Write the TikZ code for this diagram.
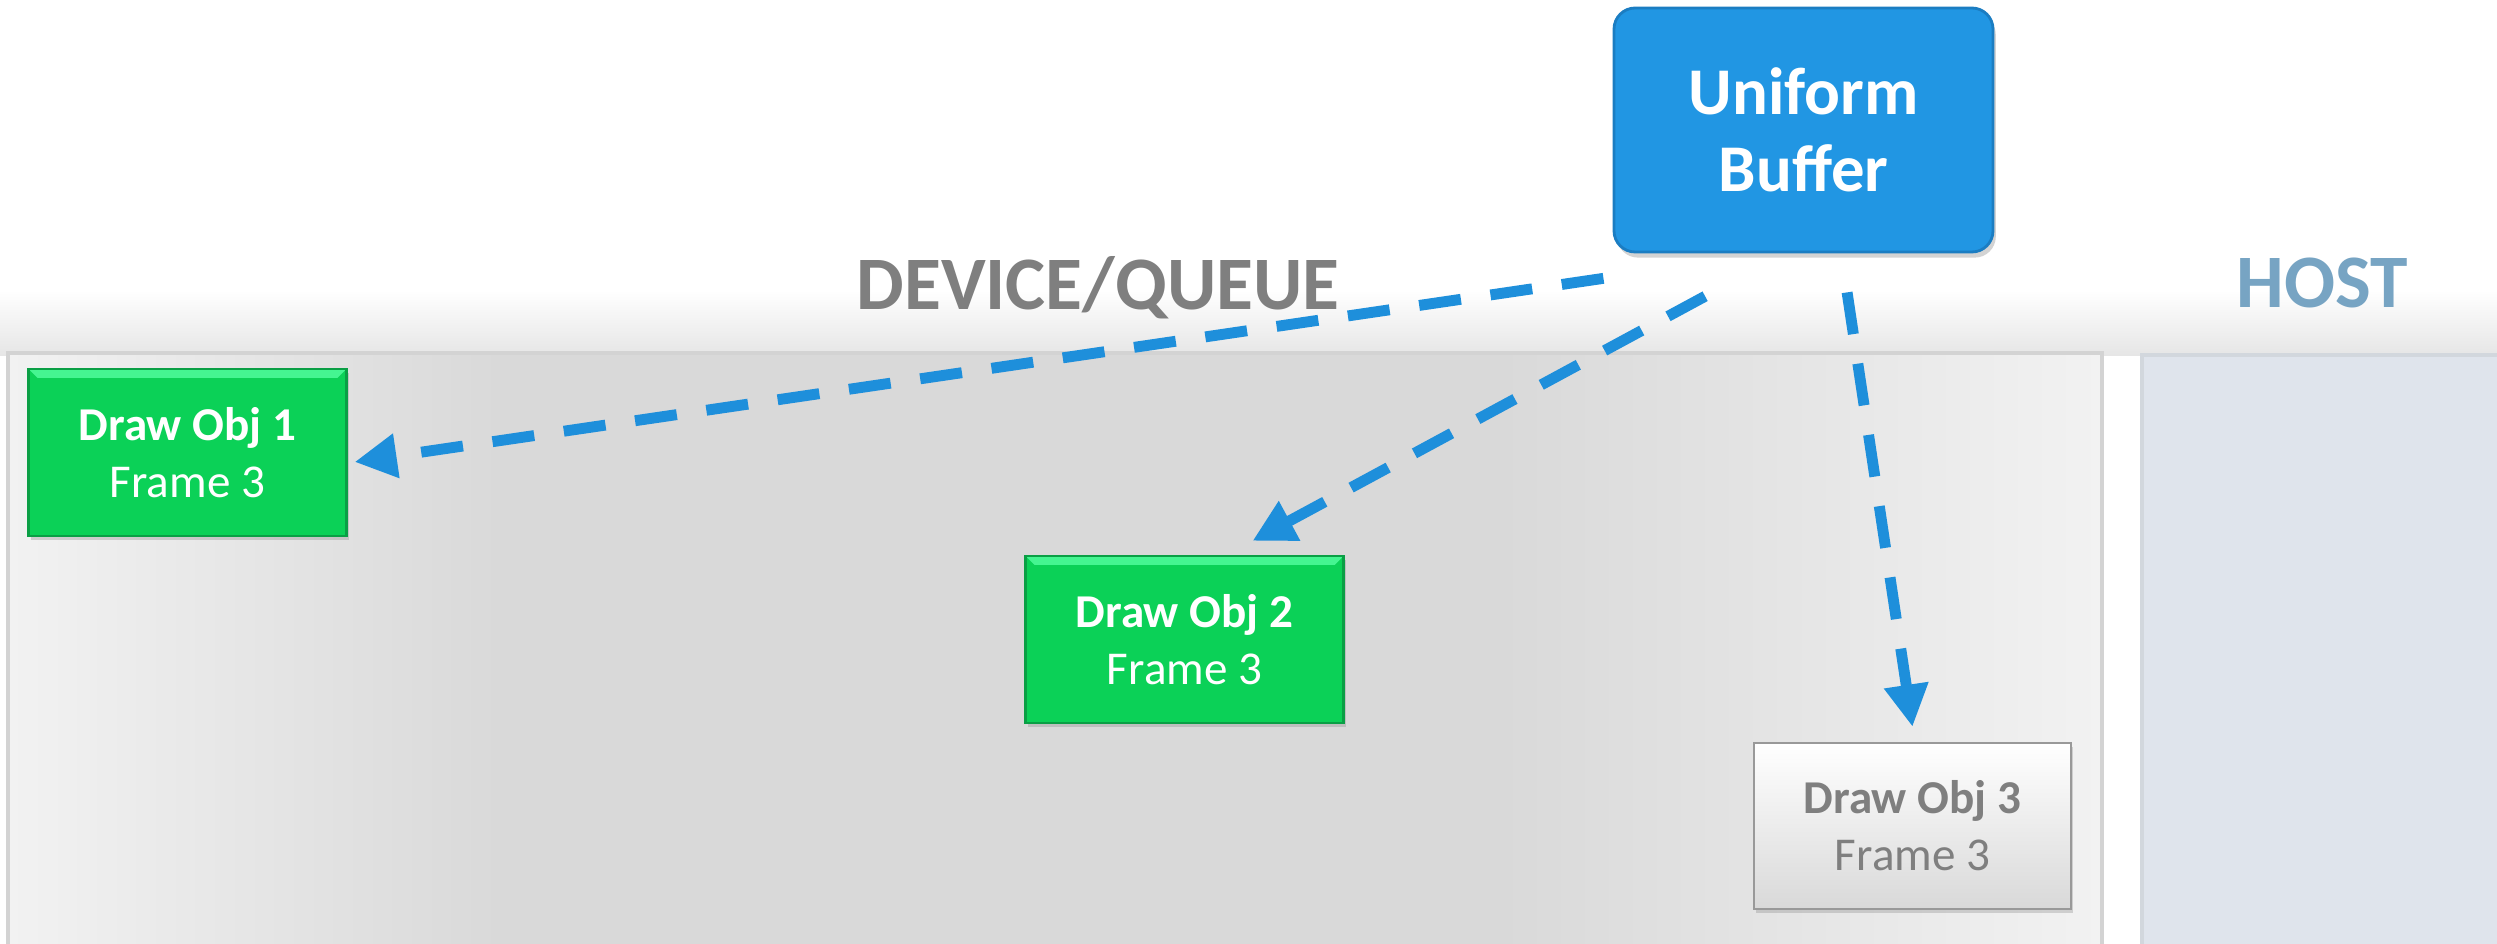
\documentclass[tikz,border=0pt]{standalone}
\usepackage{fontspec}
\setmainfont{Carlito}
\usetikzlibrary{arrows.meta,shadows}

\definecolor{ubblue}{HTML}{2196E3}
\definecolor{ubedge}{HTML}{1B7DC2}
\definecolor{linkblue}{HTML}{1E8FDB}
\definecolor{objgreen}{HTML}{0BD157}
\definecolor{objedge}{HTML}{0A9F45}
\definecolor{objlight}{HTML}{45F591}
\definecolor{textgray}{HTML}{7F7F7F}
\definecolor{hostblue}{HTML}{77A4C3}
\definecolor{hostfill}{HTML}{DFE4EC}
\definecolor{hostedge}{HTML}{D2D7DD}
\definecolor{queuegray}{HTML}{D9D9D9}
\definecolor{queuelight}{HTML}{F2F2F2}
\definecolor{queueedge}{HTML}{D3D3D3}

\begin{document}
\begin{tikzpicture}[x = 0.1mm, y = -0.1mm,
                    buffer/.style = {rectangle, rounded corners = 6pt, draw = ubedge, line width = 0.8pt,
                                     fill = ubblue, text = white, align = center,
                                     minimum width = 37.9mm, minimum height = 24.4mm,
                                     font = \fontsize{19}{22}\selectfont\bfseries,
                                     drop shadow = {opacity = 0.35, shadow xshift = 0.8pt, shadow yshift = -1.6pt}},
                    sheen/.style = {path picture = {
                                     \fill[#1] (path picture bounding box.north west) -- (path picture bounding box.north east)
                                       -- ([xshift = -2.5pt, yshift = -2.5pt]path picture bounding box.north east)
                                       -- ([xshift = 2.5pt, yshift = -2.5pt]path picture bounding box.north west) -- cycle;}},
                    active/.style = {rectangle, draw = objedge, line width = 0.6pt, fill = objgreen, sheen = objlight,
                                     text = white, align = center, minimum width = 31.8mm, minimum height = 16.7mm,
                                     font = \fontsize{13.4}{16.2}\selectfont,
                                     drop shadow = {opacity = 0.3, shadow xshift = 0.6pt, shadow yshift = -1.2pt}},
                    idle/.style = {rectangle, draw = black!40, line width = 0.6pt, top color = white, bottom color = black!15,
                                   text = textgray, align = center, minimum width = 31.7mm, minimum height = 16.6mm,
                                   font = \fontsize{13.4}{16.2}\selectfont,
                                   drop shadow = {opacity = 0.3, shadow xshift = 0.6pt, shadow yshift = -1.2pt}},
                    link/.style = {draw = linkblue, line width = 3.1pt, dash pattern = on 12pt off 8.5pt,
                                   -{Triangle[length = 12pt, width = 12pt]}},
                    title/.style = {anchor = base, font = \fontsize{21.5}{24}\selectfont\bfseries}]
  \useasboundingbox (0,0) rectangle (2497,944);
  \shade[top color = white, bottom color = black!10] (0,290) rectangle (2497,356);

  \fill[queuegray] (8,353) rectangle (2102,960);
  \shade[left color = queuelight, right color = queuegray] (8,353) rectangle (500,960);
  \shade[left color = queuegray, right color = queuelight] (1500,353) rectangle (2102,960);
  \draw[queueedge, line width = 1.2pt] (8,353) rectangle (2102,960);
  \fill[hostfill] (2142,355) rectangle (2520,960);
  \draw[hostedge, line width = 1.2pt] (2142,355) rectangle (2520,960);

  \node [title, text = textgray] (queue) at (1098,310) {DEVICE/QUEUE};
  \node [title, text = hostblue] (host) at (2322,308) {HOST};

  \node [buffer] (ub) at (1803.5,130) {Uniform\\Buffer};
  \node [active] (obj1) at (187.5,452.5) {\textbf{Draw Obj 1}\\Frame 3};
  \node [active] (obj2) at (1184.5,639.5) {\textbf{Draw Obj 2}\\Frame 3};
  \node [idle] (obj3) at (1912.5,826) {\textbf{Draw Obj 3}\\Frame 3};

  \draw [link] ([xshift = -2.6pt, yshift = -7.1pt]ub.south west) -- ([xshift = 2pt, yshift = -2.7pt]obj1.east);
  \draw [link] ([xshift = -28pt, yshift = -12.2pt]ub.south) -- ([xshift = -26.2pt, yshift = 4pt]obj2.north east);
  \draw [link] ([xshift = 12.4pt, yshift = -11.1pt]ub.south) -- ([yshift = 4.3pt]obj3.north);
\end{tikzpicture}
\end{document}
